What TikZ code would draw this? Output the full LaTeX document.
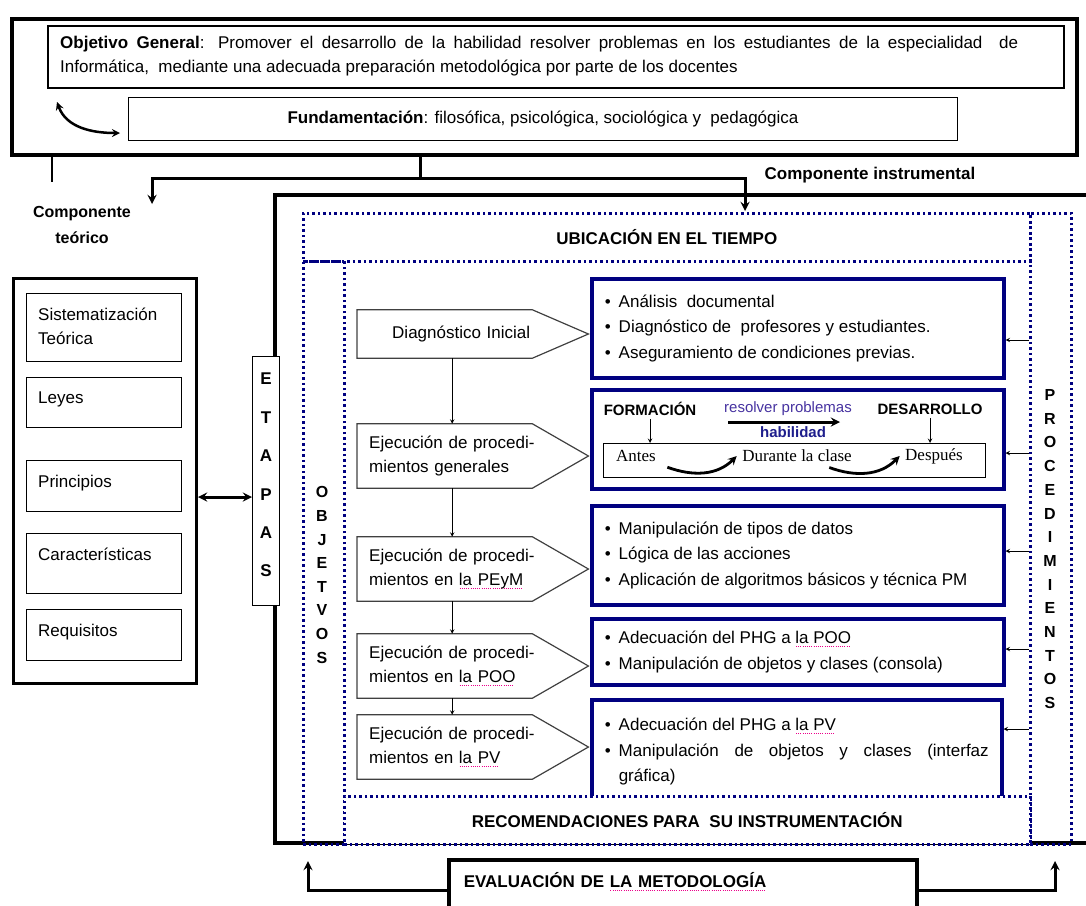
\documentclass[tikz,border=0pt]{standalone}
\usepackage{fontspec}
\setmainfont{Liberation Sans}
\newfontfamily\tnr{Liberation Serif}
\usetikzlibrary{calc}
\definecolor{boxblue}{RGB}{0,0,128}
\definecolor{probviolet}{RGB}{70,50,160}
\definecolor{habblue}{RGB}{30,30,140}
\newcommand\itmfirst{\hangindent=14pt\hangafter=1\noindent\makebox[14pt][l]{\textbullet}}
\newcommand\itm{\par\itmfirst}
\newlength\spellw
\newcommand\spell[1]{\settowidth\spellw{#1}\rlap{\color{magenta}\raisebox{-3.5pt}{\makebox[\spellw]{\leaders\hbox to 2.2pt{\hss\rule{1pt}{0.8pt}\hss}\hfill}}}#1}

\begin{document}
\begin{tikzpicture}[
    x = 1pt,
    y = -1pt,
    >=stealth,
    every node/.style = {font=\fontsize{17}{24}\selectfont},
    heavy/.style = {draw, line width=3.5pt},
    thickline/.style = {line width=3pt},
    theobox/.style = {draw, line width=1.2pt, anchor=north west, minimum width=155pt, inner sep=0pt,
              label={[anchor=north west, align=left, inner sep=0pt, xshift=12pt, yshift=-15pt]north west:#1}},
    stage/.style = {anchor=west, minimum width=175pt, minimum height=#1, inner xsep=12pt,
              text width=151pt, align=left},
    bluebox/.style = {draw=boxblue, line width=3.5pt, anchor=north west, minimum width=412pt,
              inner xsep=13pt, text width=386pt, align=justify, font=\fontsize{17}{25.5}\selectfont},
    dotbox/.style = {draw=boxblue, line width=2.5pt, dash pattern=on 2.5pt off 3pt, anchor=north west,
              inner sep=0pt, font=\fontsize{17}{24}\selectfont\bfseries},
    letters/.style = {align=center, inner sep=0pt, font=\fontsize{16}{#1}\selectfont\bfseries},
    ]

\useasboundingbox (0,0) rectangle (1086,905);

% objetivo y fundamentacion
\node[heavy, anchor=north west, minimum width=1065pt, minimum height=136pt] (top) at (10,17) {};
\node[draw, line width=2pt, anchor=north west, minimum width=1016pt, minimum height=62pt] (goal) at (47,25) {};
\node[anchor=west, inner sep=0pt, text width=958pt, align=justify] (goaltxt) at (60,56)
    {\textbf{Objetivo General}: Promover el desarrollo de la habilidad resolver problemas en los estudiantes de la especialidad\ \ de\linebreak Informática,\ \ mediante una adecuada preparación metodológica por parte de los docentes};
\node[draw, line width=1pt, anchor=north west, minimum width=829pt, minimum height=43pt] (fund) at (128,97)
    {\textbf{Fundamentación}: filosófica, psicológica, sociológica y\ \ pedagógica};
\draw[<->, line width=2.5pt] ([shift={(10,13)}]goal.south west) to[out=-70, in=180] ([shift={(-8,-8)}]fund.south west);

\coordinate (tail) at (52,182);
\coordinate (split) at (420,178);
\coordinate (teoend) at (152,204);
\coordinate (insend) at (745,211);
\draw[line width=1.5pt] (top.south -| tail) -- (tail);
\draw[thickline] (top.south -| split) -- (split);
\draw[thickline, ->] (split) -| (teoend);
\draw[thickline, ->] (split) -| (insend);
\node[font=\fontsize{17}{24}\selectfont\bfseries] (instr) at (870,175) {Componente instrumental};
\node[align=center, font=\fontsize{16}{26}\selectfont\bfseries] (teolbl) at (82,225) {Componente\\teórico};

% componente instrumental
\draw[line width=3.5pt] (1095,195) -- (275,195) -- (275,843) -- (1095,843);

\node[dotbox, minimum width=727pt, minimum height=48pt] (ubic) at (302,212) {UBICACIÓN EN EL TIEMPO};
\node[dotbox, minimum width=41pt, minimum height=583pt] (objcol) at (302,260) {};
\node[dotbox, minimum width=41pt, minimum height=631pt] (proccol) at (1029,212) {};
\node[letters=23.6pt] (objlet) at (322,575) {O\\B\\J\\E\\T\\V\\O\\S};
\foreach \l [count=\i] in {P,R,O,C,E,D,I,M,I,E,N,T,O,S}
  \node[letters=20pt] (proc-\i) at (1050,{395+(\i-1)*23.7}) {\l};

% componente teorico
\node[heavy, line width=3pt, anchor=north west, minimum width=183pt, minimum height=405pt] (theo) at (12,277) {};
\node[theobox={Sistematización\\Teórica}, minimum height=68pt] (sis) at (26,293) {};
\node[theobox=Leyes, minimum height=50pt] (ley) at (26,377) {};
\node[theobox=Principios, minimum height=51pt] (pri) at (26,460) {};
\node[theobox=Características, minimum height=60pt] (car) at (26,533) {};
\node[theobox=Requisitos, minimum height=51pt] (req) at (26,609) {};

\node[draw, fill=white, line width=1pt, anchor=north west, minimum width=27pt, minimum height=249pt,
      inner sep=0pt, align=center, text depth=12pt, font=\fontsize{17}{38.4}\selectfont\bfseries] (etapas) at (252,356)
    {E\\T\\A\\P\\A\\S};
\coordinate (row) at (0,497);
\draw[<->, line width=3pt] (theo.east |- row) -- (etapas.west |- row);

% etapas
\node[stage=48pt] (dia) at (357,334) {\hspace*{23pt}\mbox{Diagnóstico Inicial}};
\node[stage=64pt] (gen) at (357,456) {\mbox{Ejecución de procedi-}\\\mbox{mientos generales}};
\node[stage=64pt] (pey) at (357,569) {\mbox{Ejecución de procedi-}\\\mbox{mientos en \spell{la PEyM}}};
\node[stage=64pt] (poo) at (357,666) {\mbox{Ejecución de procedi-}\\\mbox{mientos en \spell{la POO}}};
\node[stage=64pt] (pv) at (357,747) {\mbox{Ejecución de procedi-}\\\mbox{mientos en \spell{la PV}}};
\foreach \s in {dia,gen,pey,poo,pv}
  \draw[draw=black!75, line width=1.2pt] (\s.north west) -- (\s.north east) -- ([xshift=56pt]\s.east)
        -- (\s.south east) -- (\s.south west) -- cycle;
\foreach \a/\b in {dia/gen,gen/pey,pey/poo,poo/pv}
  \draw[->, line width=1pt] ([xshift=7.5pt]\a.south) -- ([xshift=7.5pt]\b.north);

% procedimientos
\node[bluebox, minimum height=99pt] (b1) at (590,277)
    {\itmfirst Análisis\ \ documental \itm Diagnóstico de\ \ profesores y estudiantes. \itm Aseguramiento de condiciones previas.\par};
\node[bluebox, minimum height=99pt] (b2) at (590,388) {};
\node[bluebox, minimum height=99pt] (b3) at (590,504)
    {\itmfirst Manipulación de tipos de datos \itm Lógica de las acciones \itm Aplicación de algoritmos básicos y técnica PM\par};
\node[bluebox, minimum height=66pt] (b4) at (590,617)
    {\itmfirst Adecuación del PHG a \spell{la POO} \itm Manipulación de objetos y clases (consola)\par};
\node[bluebox, minimum width=410pt, text width=384pt, minimum height=104pt] (b5) at (590,698)
    {\itmfirst Adecuación del PHG a \spell{la PV} \itm Manipulación de objetos y clases (interfaz\linebreak gráfica)\par};
\node[dotbox, fill=white, minimum width=686pt, minimum height=48pt] (recom) at (343,795)
    {RECOMENDACIONES PARA\ \ SU INSTRUMENTACIÓN};
\foreach \b/\y in {b1/340,b2/453,b3/551,b4/649,b5/729} {
  \coordinate (r) at (0,\y);
  \draw[<-, line width=1pt] (\b.east |- r) -- (proccol.west |- r);
}

% formacion y desarrollo
\node[font=\fontsize{15}{18}\selectfont\bfseries] (form) at (650,409) {FORMACIÓN};
\node[font=\fontsize{15}{18}\selectfont, text=probviolet] (resol) at (788,409) {resolver problemas};
\node[font=\fontsize{15}{18}\selectfont\bfseries, text=habblue] (hab) at (793,432) {habilidad};
\node[font=\fontsize{15}{18}\selectfont\bfseries] (desa) at (930,409) {DESARROLLO};
\node[draw, line width=1pt, anchor=north west, minimum width=382pt, minimum height=34pt] (clase) at (603,443) {};
\node[font=\tnr\fontsize{17}{20}\selectfont] (antes) at (636,456) {Antes};
\node[font=\tnr\fontsize{17}{20}\selectfont] (durante) at (797,456) {Durante la clase};
\node[font=\tnr\fontsize{17}{20}\selectfont] (despues) at (934,456) {Después};
\coordinate (ha) at (728,422);
\coordinate (hb) at (840,422);
\draw[->, line width=3pt] (ha) -- (hb);
\draw[->, line width=1pt] (form.south) -- (form.south |- clase.north);
\draw[->, line width=1pt] (desa.south) -- (desa.south |- clase.north);
\draw[->, line width=2.8pt] ([shift={(8,2)}]antes.south east) to[out=-20, in=-135] ([xshift=-2pt]durante.west);
\draw[->, line width=2.8pt] ([shift={(-26,2)}]durante.south east) to[out=-20, in=-135] ([xshift=-2pt]despues.west);

% evaluacion
\node[heavy, anchor=north west, minimum width=468pt, minimum height=62pt, text width=438pt, inner xsep=15pt,
      align=left, text height=12pt, text depth=18pt, font=\fontsize{17}{24}\selectfont\bfseries] (eval) at (447,858)
    {EVALUACIÓN DE \spell{LA METODOLOGÍA}};
\coordinate (evl) at (308,861);
\coordinate (evr) at (1055,861);
\draw[thickline, ->] (eval.west) -| (evl);
\draw[thickline, ->] (eval.east) -| (evr);

\end{tikzpicture}
\end{document}
